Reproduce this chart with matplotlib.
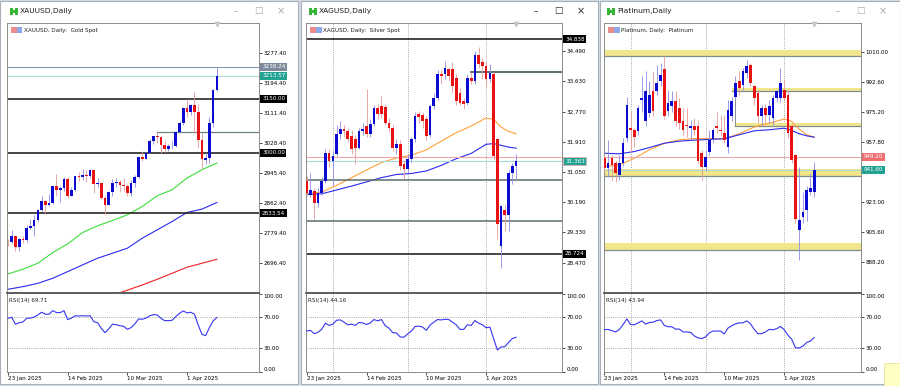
import numpy as np
import matplotlib
matplotlib.use('Agg')
import matplotlib.pyplot as plt
from matplotlib.patches import Rectangle
from matplotlib.ticker import FormatStrFormatter
from matplotlib.transforms import blended_transform_factory

plt.rcParams['font.family'] = ['DejaVu Sans']

W, H = 900, 386

# ---------------- data ----------------
date_ticks = [0, 16, 32, 48]
date_labels = ['23 Jan 2025', '14 Feb 2025', '10 Mar 2025', '1 Apr 2025']
month_seps = [7, 27, 48]
rsi_ticks = [0, 30, 70, 100]

# Gold (XAUUSD)
gold_open = [2755, 2753, 2770, 2740, 2763, 2760, 2794, 2798, 2815, 2842, 2867, 2856, 2861, 2908, 2898, 2904,
             2928, 2882, 2898, 2935, 2933, 2939, 2936, 2952, 2915, 2916, 2876, 2857, 2893, 2918, 2920, 2911,
             2910, 2889, 2916, 2934, 2989, 2984, 3000, 3034, 3047, 3043, 3022, 3011, 3019, 3019, 3057, 3084,
             3123, 3113, 3133, 3114, 3037, 2980, 2985, 3083, 3175]
gold_high = [2763, 2786, 2772, 2765, 2770, 2800, 2817, 2830, 2845, 2882, 2870, 2886, 2910, 2942, 2909, 2934,
             2933, 2905, 2936, 2947, 2955, 2954, 2956, 2954, 2930, 2918, 2880, 2895, 2928, 2930, 2926, 2930,
             2915, 2925, 2940, 2990, 3005, 3002, 3038, 3048, 3057, 3047, 3037, 3025, 3033, 3060, 3087, 3128,
             3149, 3135, 3167, 3136, 3055, 3000, 3100, 3176, 3238]
gold_low = [2742, 2751, 2730, 2730, 2750, 2755, 2790, 2772, 2810, 2840, 2835, 2853, 2859, 2880, 2864, 2895,
            2876, 2880, 2896, 2922, 2925, 2919, 2930, 2890, 2905, 2872, 2832, 2856, 2880, 2905, 2895, 2896,
            2880, 2880, 2906, 2932, 2978, 2982, 2999, 3024, 3028, 2999, 3004, 3005, 3012, 3016, 3055, 3076,
            3100, 3105, 3054, 3015, 2956, 2970, 2972, 3073, 3170]
gold_close = [2753, 2770, 2740, 2763, 2760, 2794, 2798, 2815, 2842, 2867, 2856, 2861, 2908, 2898, 2904, 2928,
              2882, 2898, 2935, 2933, 2939, 2936, 2952, 2915, 2916, 2876, 2857, 2893, 2918, 2920, 2911, 2910,
              2889, 2916, 2934, 2989, 2984, 3000, 3034, 3047, 3043, 3022, 3011, 3019, 3019, 3057, 3084, 3123,
              3113, 3133, 3114, 3037, 2982, 2985, 3083, 3175, 3213.57]
gold_ma_bars = [0, 4, 8, 12, 16, 20, 24, 28, 32, 36, 40, 44, 48, 52, 56]
gold_ma_green = [2665.9, 2678.8, 2695.4, 2724.9, 2748.9, 2780.2, 2798.7, 2813.4, 2829.1, 2852.2, 2881.7,
                 2898.3, 2930.6, 2953.6, 2972.1]
gold_ma_blue = [2623.4, 2630.8, 2640.0, 2653.9, 2672.3, 2690.8, 2709.2, 2723.0, 2736.9, 2764.5, 2787.6,
                2810.7, 2835.6, 2844.8, 2863.2]
gold_ma_red_bars = [24, 28, 32, 36, 40, 44, 48, 52, 56]
gold_ma_red = [2594, 2607, 2621, 2635.4, 2651.1, 2667.7, 2684.3, 2695.4, 2706.4]
gold_rsi = [68.7, 70.0, 61.0, 63.0, 64.0, 68.7, 69.0, 70.4, 73.0, 76.5, 74.0, 74.0, 78.6, 76.0, 76.0, 78.6,
            67.0, 69.0, 72.0, 71.7, 72.0, 71.7, 72.0, 64.4, 63.0, 55.8, 50.2, 55.0, 61.0, 60.5, 59.2, 58.4,
            54.5, 56.7, 61.4, 67.8, 67.4, 69.0, 72.0, 73.4, 73.0, 68.7, 65.7, 65.7, 66.1, 70.9, 75.2, 78.2,
            75.6, 76.5, 73.9, 60.0, 48.0, 46.3, 56.7, 65.3, 69.71]
gold_ticks = [3277.40, 3194.40, 3111.40, 3028.40, 2945.40, 2862.40, 2779.40, 2696.40]
gold_black_levels = [3150.00, 3000.00, 2833.54]
gold_high_level = 3238.24
gold_short_level = 3058.8
gold_short_start = 40
gold_bid = 3213.57

# Silver (XAGUSD)
silver_open = [30.79, 30.40, 30.51, 30.18, 30.45, 30.79, 31.60, 31.37, 31.55, 32.12, 32.28, 32.22, 32.08, 31.98,
               31.74, 32.22, 32.36, 32.12, 32.41, 32.88, 32.93, 32.91, 32.46, 32.31, 31.74, 31.84, 31.27, 31.13,
               31.41, 31.98, 32.70, 32.67, 32.55, 32.10, 32.93, 33.17, 33.83, 33.83, 33.98, 33.98, 33.74, 33.31,
               33.07, 33.03, 33.74, 33.64, 34.38, 34.17, 34.07, 33.69, 33.83, 31.98, 28.94, 29.98, 29.84, 31.03,
               31.21]
silver_high = [30.95, 31.03, 30.60, 30.60, 30.90, 31.72, 31.70, 31.65, 32.40, 32.50, 32.40, 32.30, 32.25, 32.10,
               32.30, 32.45, 33.41, 32.55, 32.95, 33.00, 33.22, 33.00, 32.60, 32.40, 32.00, 31.95, 31.40, 31.55,
               32.05, 32.75, 32.80, 32.75, 32.65, 33.00, 33.30, 33.95, 33.95, 34.20, 34.05, 34.17, 33.85, 33.45,
               33.15, 33.85, 33.90, 34.50, 34.60, 34.30, 34.20, 34.12, 33.90, 32.00, 30.10, 30.10, 31.10, 31.30,
               31.55]
silver_low = [30.40, 30.35, 29.70, 30.05, 30.40, 30.75, 31.20, 30.65, 31.50, 32.00, 32.05, 31.90, 31.55, 31.27,
              31.70, 32.10, 32.05, 32.05, 32.35, 32.55, 32.60, 32.40, 32.20, 31.65, 31.55, 31.10, 30.85, 31.05,
              31.35, 31.90, 32.45, 32.30, 31.95, 32.05, 32.85, 33.10, 33.55, 33.70, 33.65, 33.30, 32.95, 32.95,
              32.85, 32.95, 33.55, 33.55, 34.00, 33.70, 33.50, 33.60, 31.40, 29.15, 28.32, 29.37, 29.37, 30.70,
              30.85]
silver_close = [30.46, 30.55, 30.18, 30.45, 30.79, 31.60, 31.37, 31.50, 32.12, 32.28, 32.22, 31.98, 31.70, 31.74,
                32.22, 32.28, 32.12, 32.41, 32.88, 32.70, 32.70, 32.46, 32.31, 31.74, 31.84, 31.22, 31.13, 31.41,
                31.98, 32.65, 32.63, 32.50, 32.08, 32.93, 33.17, 33.83, 33.78, 34.00, 33.79, 33.50, 33.07, 33.03,
                32.98, 33.74, 33.64, 34.38, 34.12, 34.07, 33.69, 33.86, 31.50, 29.56, 30.08, 29.84, 31.03, 31.21,
                31.363]
silver_ma_bars = [0, 4, 8, 12, 16, 20, 24, 28, 32, 36, 40, 44, 48, 50, 52, 54, 56]
silver_ma_orange = [30.43, 30.48, 30.67, 30.89, 31.11, 31.32, 31.45, 31.53, 31.68, 31.93, 32.17, 32.36, 32.59,
                    32.55, 32.33, 32.21, 32.14]
silver_ma_blue = [30.41, 30.43, 30.54, 30.65, 30.77, 30.89, 30.98, 31.01, 31.08, 31.24, 31.43, 31.58, 31.84,
                  31.86, 31.81, 31.76, 31.73]
silver_rsi = [52.3, 53.2, 48.9, 50.6, 54.4, 62.4, 59.5, 61.2, 66.2, 66.6, 63.7, 60.3, 61.2, 59.5, 63.3, 62.8,
              60.7, 62.8, 67.1, 65.4, 67.1, 59.1, 56.1, 50.2, 49.8, 44.7, 44.3, 48.5, 52.3, 58.2, 58.6, 57.4,
              53.2, 59.9, 63.7, 67.1, 66.6, 67.5, 67.1, 63.7, 60.3, 54.4, 54.4, 60.3, 59.5, 65.8, 62.4, 60.3,
              56.5, 57.4, 42.6, 27.9, 31.7, 32.1, 37.6, 42.6, 44.16]
silver_ticks = [34.490, 33.630, 32.770, 31.910, 31.050, 30.190, 29.330, 28.470]
silver_black_levels = [34.838, 28.724]
silver_grey_levels = [30.835, 29.666]
silver_short_level = 33.905
silver_short_start = 44
silver_bid = 31.363
silver_ask = 31.48

# Platinum
plat_open = [948.3, 942.5, 948.3, 945.4, 938.7, 945.4, 960.0, 965.7, 964.8, 963.8, 982.2, 969.6, 974.4, 987.0,
             987.0, 992.8, 999.9, 975.4, 978.3, 981.2, 977.3, 969.6, 967.7, 965.7, 967.1, 966.7, 951.2, 943.1,
             952.2, 959.4, 966.7, 964.8, 962.8, 955.1, 972.5, 984.0, 993.0, 990.9, 997.6, 1002.5, 989.9, 986.0,
             972.5, 977.3, 973.5, 971.5, 983.1, 983.1, 988.0, 985.1, 966.7, 950.0, 906.8, 914.5, 918.4, 929.0,
             929.0]
plat_high = [950.0, 959.0, 950.0, 947.0, 950.2, 960.0, 984.0, 975.4, 966.0, 979.3, 995.7, 998.6, 992.8, 998.6,
             1002.5, 1003.4, 1007.7, 988.0, 987.0, 987.0, 983.0, 977.3, 977.3, 970.6, 971.5, 970.6, 953.0, 953.2,
             964.8, 966.0, 974.8, 973.5, 973.5, 982.2, 984.0, 995.7, 998.6, 1000.5, 1005.4, 1003.4, 991.0, 987.0,
             979.0, 980.0, 982.2, 985.0, 988.0, 1000.5, 993.8, 988.0, 968.0, 951.0, 943.5, 929.0, 932.0, 940.0,
             946.4]
plat_low = [941.0, 937.5, 935.8, 934.8, 936.0, 944.0, 958.0, 952.2, 955.1, 962.0, 975.0, 967.0, 972.0, 973.0,
            985.0, 990.0, 971.0, 973.0, 975.0, 967.0, 965.0, 962.0, 960.9, 959.0, 962.0, 945.0, 935.8, 941.0,
            950.0, 957.0, 963.0, 961.0, 957.0, 951.2, 970.0, 982.0, 985.0, 988.0, 995.0, 990.0, 979.3, 968.6,
            967.7, 968.6, 968.6, 967.7, 981.0, 981.0, 981.2, 960.0, 945.4, 911.0, 889.4, 910.6, 912.0, 927.0,
            926.0]
plat_close = [942.5, 945.4, 944.5, 939.6, 945.4, 957.0, 979.3, 964.8, 960.9, 977.3, 983.2, 987.0, 985.1, 975.4,
              991.8, 996.7, 972.9, 980.3, 981.2, 969.6, 968.6, 964.8, 966.7, 966.7, 964.8, 947.0, 943.5, 949.3,
              959.0, 964.4, 965.7, 963.8, 959.0, 976.4, 981.2, 991.8, 989.0, 998.6, 1001.5, 991.8, 983.1, 972.5,
              977.3, 973.5, 978.3, 983.1, 987.0, 991.8, 983.1, 962.8, 947.4, 913.3, 912.6, 917.4, 930.0, 931.0,
              941.6]
plat_ma_bars = [0, 4, 8, 12, 16, 20, 24, 28, 32, 36, 40, 44, 48, 50, 52, 54, 56]
plat_ma_orange = [943.5, 944.5, 948.3, 953.2, 957.0, 959.0, 959.7, 959.7, 959.6, 962.5, 966.4, 968.6, 971.0,
                  969.6, 965.2, 961.9, 960.5]
plat_ma_blue = [951.2, 950.9, 952.2, 954.5, 957.0, 958.2, 958.8, 959.2, 959.6, 961.9, 964.2, 964.8, 965.7,
                964.4, 962.5, 961.3, 960.5]
plat_rsi = [54.0, 54.4, 52.7, 51.1, 54.4, 60.7, 67.9, 60.7, 60.3, 62.8, 65.4, 61.2, 63.3, 63.7, 65.8, 66.6,
            59.5, 57.8, 57.8, 54.8, 54.8, 51.1, 51.1, 50.6, 46.0, 43.5, 42.6, 44.7, 49.8, 52.3, 52.3, 52.3,
            48.5, 56.1, 59.1, 61.6, 62.8, 62.8, 65.4, 61.6, 54.4, 48.9, 48.9, 51.1, 54.4, 54.0, 55.3, 58.2,
            54.0, 46.8, 41.8, 30.8, 30.4, 32.9, 37.6, 39.3, 43.94]
# 940.40 sits under the bid box in the reference, so it is not listed
plat_ticks = [1010.00, 992.60, 975.20, 957.80, 923.00, 905.60, 888.20]
# (low, high, first bar) of the yellow zones
plat_zones = [(1007.7, 1011.0, None), (987.4, 988.8, 34.1), (966.9, 968.5, 35), (937.9, 941.8, None),
              (895.4, 899.2, None)]
plat_box_edge = (35, 966.9, 987.4)
plat_bid = 941.60
plat_ask = 949.20

# ---------------- drawing ----------------
fig = plt.figure(figsize=(W / 100, H / 100), dpi=100)
fig.patch.set_facecolor('#D6DCE3')

FS = 4.1
BULL, BEAR = '#0A0AD0', '#E81212'
BULL_W, BEAR_W = '#8C8CE6', '#E89A9A'


def box(x0, y0, x1, y1, z=-5, **kw):
    fig.add_artist(Rectangle((x0 / W, 1 - y1 / H), (x1 - x0) / W, (y1 - y0) / H,
                             transform=fig.transFigure, zorder=z, **kw))


def axes_px(x0, y0, x1, y1):
    return fig.add_axes([x0 / W, 1 - y1 / H, (x1 - x0) / W, (y1 - y0) / H])


def candles(ax, o, h, l, c, minh):
    o, h, l, c = map(np.asarray, (o, h, l, c))
    idx = np.arange(len(o))
    up = c >= o
    ax.vlines(idx[up], l[up], h[up], color=BULL_W, lw=0.6, zorder=3)
    ax.vlines(idx[~up], l[~up], h[~up], color=BEAR_W, lw=0.6, zorder=3)
    body = np.maximum(np.abs(c - o), minh)
    bot = np.minimum(o, c)
    ax.bar(idx[up], body[up], bottom=bot[up], width=0.72, color=BULL, lw=0, zorder=4)
    ax.bar(idx[~up], body[~up], bottom=bot[~up], width=0.72, color=BEAR, lw=0, zorder=4)


def price_box(ax, y, txt, fc, tc='white', ec='none'):
    tr = blended_transform_factory(ax.transAxes, ax.transData)
    ax.text(1.012, y, txt, transform=tr, fontsize=FS, color=tc, va='center', ha='left', zorder=10,
            clip_on=False, bbox=dict(boxstyle='square,pad=0.28', fc=fc, ec=ec, lw=0.5))


def window(wx0, wx1, px0, px1, title, sym_text, xlim, ylim, ticks, fmt, rsi, rsi_txt, seps, active):
    box(wx0, 1, wx1, 384, facecolor='white', edgecolor='#A7B1BB', lw=0.8)
    # title bar
    box(px0 + 3, 8, px0 + 6, 15, z=5, facecolor='#36B536', edgecolor='none')
    box(px0 + 8, 8, px0 + 11, 15, z=5, facecolor='#36B536', edgecolor='none')
    box(px0 + 5, 10.5, px0 + 9, 12.5, z=5, facecolor='#36B536', edgecolor='none')
    fig.text((px0 + 13) / W, 1 - 11 / H, title, fontsize=5.4, va='center', ha='left', color='#1E1E1E')
    gc = '#2A2A2A' if active else '#A8A8A8'
    fig.text((wx1 - 62) / W, 1 - 12 / H, '\u2013', fontsize=6, va='center', ha='center', color=gc)
    fig.text((wx1 - 40) / W, 1 - 11 / H, '\u25a1', fontsize=6.5, va='center', ha='center', color=gc)
    fig.text((wx1 - 17) / W, 1 - 11 / H, '\u00d7', fontsize=7, va='center', ha='center', color=gc)

    ax = axes_px(px0, 23, px1, 292.5)
    ar = axes_px(px0, 293, px1, 372)
    for a in (ax, ar):
        a.set_facecolor('white')
        a.set_xlim(*xlim)
        for s in a.spines.values():
            s.set_color('#8C8C8C')
            s.set_linewidth(0.7)
        a.yaxis.tick_right()
        a.tick_params(axis='y', length=2.2, width=0.5, pad=1.2, labelsize=FS, colors='#000000')
        for b in seps:
            a.axvline(b, color='#8A8A8A', lw=0.6, ls=(0, (1, 1.6)), zorder=1)
    ar.spines['top'].set_color('#505050')
    ar.spines['top'].set_linewidth(1.3)

    ax.set_ylim(*ylim)
    ax.set_yticks(ticks)
    ax.yaxis.set_major_formatter(FormatStrFormatter(fmt))
    ax.tick_params(axis='x', bottom=False, labelbottom=False)
    ax.text(0.066, 0.972, sym_text, transform=ax.transAxes, fontsize=FS, va='center', ha='left', color='#222222')
    ax.add_patch(Rectangle((0.017, 0.962), 0.021, 0.022, transform=ax.transAxes, fc='#EE8C8C', ec='none'))
    ax.add_patch(Rectangle((0.040, 0.962), 0.021, 0.022, transform=ax.transAxes, fc='#8CA8E6', ec='none'))
    tr = blended_transform_factory(ax.transData, ax.transAxes)
    ax.plot([len(rsi) - 1], [0.995], marker='v', ms=3.2, color='#C8C8C8', transform=tr, clip_on=False, zorder=6)

    ar.set_ylim(-0.5, 101.3)
    ar.set_yticks(rsi_ticks)
    ar.yaxis.set_major_formatter(FormatStrFormatter('%.2f'))
    labs = ar.get_yticklabels()
    labs[0].set_va('bottom')
    labs[-1].set_va('top')
    for lv in (30, 70):
        ar.axhline(lv, color='#8C8C8C', lw=0.6, ls=(0, (1, 1.6)), zorder=1)
    ar.plot(np.arange(len(rsi)), rsi, color='#3535F2', lw=0.8, zorder=3)
    ar.text(0.006, 0.9, rsi_txt, transform=ar.transAxes, fontsize=FS, va='center', ha='left', color='#222222')
    ar.set_xticks(date_ticks)
    ar.set_xticklabels(date_labels, ha='left')
    ar.tick_params(axis='x', length=2, width=0.5, pad=1.2, labelsize=FS, colors='#000000')
    return ax


def xfrac(ax, b):
    x0, x1 = ax.get_xlim()
    return (b - x0) / (x1 - x0)


# ---- Gold ----
ax = window(0, 298, 7, 259, 'XAUUSD,Daily', 'XAUUSD, Daily:  Gold Spot', (-0.27, 67.3), (2614.6, 3358.9),
            gold_ticks, '%.2f', gold_rsi, 'RSI(14) %.2f' % gold_rsi[-1], [], False)
candles(ax, gold_open, gold_high, gold_low, gold_close, 1.2)
ax.plot(gold_ma_bars, gold_ma_green, color='#3BE03B', lw=0.8, zorder=2)
ax.plot(gold_ma_bars, gold_ma_blue, color='#2A2AEE', lw=0.8, zorder=2)
ax.plot(gold_ma_red_bars, gold_ma_red, color='#EE2222', lw=0.8, zorder=2)
for lv in gold_black_levels:
    ax.axhline(lv, color='#141414', lw=1.1, zorder=2)
    price_box(ax, lv, '%.2f' % lv, '#000000')
ax.axhline(gold_high_level, color='#8A9AAE', lw=0.8, zorder=2)
ax.axhline(gold_bid, color='#A5DCD4', lw=0.8, zorder=2)
ax.axhline(gold_short_level, xmin=xfrac(ax, gold_short_start), color='#6E8282', lw=0.9, zorder=2)
price_box(ax, gold_high_level, '%.2f' % gold_high_level, '#7C8B9B')
price_box(ax, gold_bid, '%.2f' % gold_bid, '#22A293')

# ---- Silver ----
ax = window(301, 598, 306, 562, 'XAGUSD,Daily', 'XAGUSD, Daily:  Silver Spot', (-0.19, 68.3), (27.62, 35.294),
            silver_ticks, '%.3f', silver_rsi, 'RSI(14) %.2f' % silver_rsi[-1], month_seps, True)
candles(ax, silver_open, silver_high, silver_low, silver_close, 0.012)
ax.plot(silver_ma_bars, silver_ma_orange, color='#FFA23A', lw=0.8, zorder=2)
ax.plot(silver_ma_bars, silver_ma_blue, color='#2A2AEE', lw=0.8, zorder=2)
for lv in silver_black_levels:
    ax.axhline(lv, color='#141414', lw=1.1, zorder=2)
    price_box(ax, lv, '%.3f' % lv, '#000000')
for lv in silver_grey_levels:
    ax.axhline(lv, color='#5A6C6C', lw=1.1, zorder=2)
ax.axhline(silver_short_level, xmin=xfrac(ax, silver_short_start), color='#5A6C6C', lw=1.4, zorder=2)
ax.axhline(silver_ask, color='#F2A8A8', lw=0.8, zorder=2)
ax.axhline(silver_bid, color='#A5DCD4', lw=0.8, zorder=2)
price_box(ax, silver_bid, '%.3f' % silver_bid, '#22A293', ec='#F2A8A8')

# ---- Platinum ----
ax = window(600, 900, 604, 861, 'Platinum,Daily', 'Platinum, Daily:  Platinum', (-0.1, 68.5), (870.6, 1026.6),
            plat_ticks, '%.2f', plat_rsi, 'RSI(14) %.2f' % plat_rsi[-1], month_seps, False)
candles(ax, plat_open, plat_high, plat_low, plat_close, 0.3)
for lo, hi, start in plat_zones:
    xm = 0 if start is None else xfrac(ax, start)
    ax.axhspan(lo, hi, xmin=xm, color='#F2E68C', lw=0, zorder=1)
    ax.axhline(lo, xmin=xm, color='#7F8E8E', lw=0.9, zorder=1.5)
ax.vlines(plat_box_edge[0], plat_box_edge[1], plat_box_edge[2], color='#7F8E8E', lw=0.7, zorder=1.5)
ax.plot(plat_ma_bars, plat_ma_orange, color='#FFA23A', lw=0.8, zorder=2)
ax.plot(plat_ma_bars, plat_ma_blue, color='#2A2AEE', lw=0.8, zorder=2)
ax.axhline(plat_ask, color='#F4AAAA', lw=0.8, zorder=2)
ax.axhline(plat_bid, color='#A5DCD4', lw=0.8, zorder=2)
price_box(ax, plat_ask, '%.2f' % plat_ask, '#EE7070')
price_box(ax, plat_bid, '%.2f' % plat_bid, '#22A293')

# sticky note in the corner
box(884, 363, 900, 386, z=5, facecolor='#FFFFC4', edgecolor='#E4E4A8', lw=0.6)

fig.savefig('out.png', dpi=100, facecolor=fig.get_facecolor())
